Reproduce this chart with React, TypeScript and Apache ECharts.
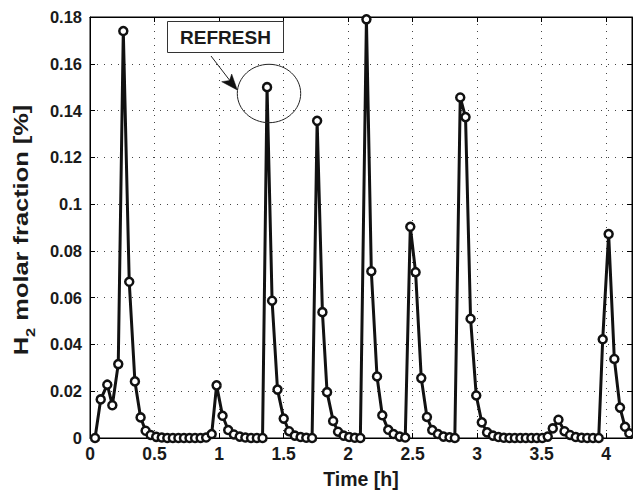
import React, { useEffect, useRef } from "react";
import * as echarts from "echarts";

const times = [
  0.039, 0.083, 0.134, 0.173, 0.219, 0.258, 0.304, 0.348, 0.392, 0.431,
  0.470, 0.513, 0.556, 0.599, 0.642, 0.685, 0.728, 0.771, 0.814, 0.857,
  0.900, 0.943, 0.981, 1.027, 1.071, 1.115, 1.160, 1.204, 1.248, 1.293,
  1.337, 1.372, 1.411, 1.453, 1.501, 1.543, 1.587, 1.632, 1.676, 1.721,
  1.760, 1.801, 1.837, 1.884, 1.922, 1.965, 2.008, 2.052, 2.095, 2.142,
  2.180, 2.224, 2.265, 2.311, 2.352, 2.399, 2.443, 2.482, 2.523, 2.567,
  2.611, 2.652, 2.696, 2.739, 2.786, 2.827, 2.869, 2.910, 2.949, 2.993,
  3.036, 3.077, 3.122, 3.165, 3.207, 3.250, 3.292, 3.335, 3.377, 3.420,
  3.462, 3.505, 3.547, 3.586, 3.630, 3.677, 3.720, 3.764, 3.809, 3.853,
  3.898, 3.942, 3.973, 4.019, 4.063, 4.107, 4.146, 4.179,
];

const h2Fraction = [
  0, 0.0165, 0.0228, 0.014, 0.0316, 0.174, 0.0668, 0.0242, 0.0088, 0.0031,
  0.0013, 0.0005, 0.0002, 0, 0, 0, 0, 0, 0, 0,
  0.0002, 0.0017, 0.0225, 0.0095, 0.0034, 0.0015, 0.0006, 0.0002, 0, 0,
  0, 0.150, 0.0587, 0.0207, 0.0083, 0.0029, 0.001, 0.0004, 0.0001, 0,
  0.1356, 0.0538, 0.0196, 0.0073, 0.0027, 0.001, 0.0004, 0.0001, 0, 0.179,
  0.0713, 0.0263, 0.0097, 0.0035, 0.0017, 0.0006, 0.0002, 0.0903, 0.0709, 0.0256,
  0.009, 0.0034, 0.0017, 0.0006, 0.0003, 0, 0.1456, 0.1372, 0.051, 0.0182,
  0.0067, 0.0024, 0.001, 0.0004, 0.0001, 0, 0, 0, 0, 0,
  0, 0, 0.0006, 0.0041, 0.0078, 0.0029, 0.0013, 0.0004, 0.0001, 0,
  0, 0, 0.0422, 0.0872, 0.0338, 0.013, 0.0048, 0.002,
];

const xTitle = "Time [h]";
const yTitleMain = "H";
const yTitleSub = "2";
const yTitleRest = " molar fraction [%]";
const annotationText = "REFRESH";

const FONT = '"Liberation Sans", Arial, Helvetica, sans-serif';
const TEXT = "#1a1a1a";

export default function App() {
  const ref = useRef<HTMLDivElement>(null);

  useEffect(() => {
    if (!ref.current) return;
    const chart = echarts.init(ref.current, null, { renderer: "svg" });
    const data = times.map((t, i) => [t, h2Fraction[i]]);
    const gridLine = { show: true, lineStyle: { color: "#444", width: 1, type: [1, 6] as any } };
    const bold = { color: TEXT, fontWeight: "bold" as const, fontFamily: FONT };

    chart.setOption({
      animation: false,
      backgroundColor: "#fff",
      grid: { left: 90, top: 17, right: 1, bottom: 50, show: true, borderColor: "#000", borderWidth: 1, backgroundColor: "transparent" },
      xAxis: [
        {
          type: "value", min: 0, max: 4.2, interval: 0.5, position: "bottom",
          axisLine: { show: true, onZero: false, lineStyle: { color: "#000", width: 1 } },
          axisTick: { show: true, inside: true, length: 5, lineStyle: { color: "#000" } },
          axisLabel: { ...bold, fontSize: 17.5, margin: 7, showMaxLabel: false,
            formatter: (v: number) => (Math.abs(v * 2 - Math.round(v * 2)) < 1e-6 ? String(v) : "") },
          splitLine: gridLine,
          name: xTitle, nameLocation: "middle", nameGap: 31,
          nameTextStyle: { ...bold, fontSize: 19.5 },
        },
        {
          type: "value", min: 0, max: 4.2, interval: 0.5, position: "top",
          axisLine: { show: true, onZero: false, lineStyle: { color: "#000", width: 1 } },
          axisTick: { show: true, inside: true, length: 5, lineStyle: { color: "#000" } },
          axisLabel: { show: false }, splitLine: { show: false },
        },
      ],
      yAxis: [
        {
          type: "value", min: 0, max: 0.18, interval: 0.02, position: "left",
          axisLine: { show: true, onZero: false, lineStyle: { color: "#000", width: 1 } },
          axisTick: { show: true, inside: true, length: 5, lineStyle: { color: "#000" } },
          axisLabel: { ...bold, fontSize: 16.5, margin: 8 },
          splitLine: gridLine,
        },
        {
          type: "value", min: 0, max: 0.18, interval: 0.02, position: "right",
          axisLine: { show: true, onZero: false, lineStyle: { color: "#000", width: 1 } },
          axisTick: { show: true, inside: true, length: 5, lineStyle: { color: "#000" } },
          axisLabel: { show: false }, splitLine: { show: false },
        },
      ],
      series: [
        {
          type: "line", xAxisIndex: 0, yAxisIndex: 0, data,
          symbol: "circle", symbolSize: 8, showAllSymbol: true, clip: true,
          lineStyle: { color: "#111", width: 3 },
          itemStyle: { color: "#fff", borderColor: "#111", borderWidth: 2.5 },
          z: 5,
        },
      ],
      graphic: [
        {
          type: "group", x: 21, y: 230, rotation: Math.PI / 2,
          children: [
            {
              type: "text", x: 0, y: 0, scaleX: 1.27,
              style: {
                text: `{a|${yTitleMain}}{s|${yTitleSub}}{a|${yTitleRest}}`,
                align: "center", verticalAlign: "middle",
                rich: {
                  a: { fontSize: 20, fontWeight: "bold", fontFamily: FONT, fill: TEXT, lineHeight: 32, verticalAlign: "middle" },
                  s: { fontSize: 13, fontWeight: "bold", fontFamily: FONT, fill: TEXT, lineHeight: 32, verticalAlign: "bottom" },
                },
              },
            },
          ],
        },
        {
          type: "rect", z: 100,
          shape: { x: 167.5, y: 21.5, width: 116, height: 31 },
          style: { fill: "#fff", stroke: "#333", lineWidth: 1 },
        },
        {
          type: "text", z: 101, x: 225.5, y: 37.5,
          style: { text: annotationText, fontSize: 19, fontWeight: "bold", fontFamily: FONT, fill: TEXT, align: "center", verticalAlign: "middle" },
        },
        {
          type: "ellipse", z: 100,
          shape: { cx: 269, cy: 93.5, rx: 31.7, ry: 29.2 },
          style: { fill: "none", stroke: "#222", lineWidth: 1 },
        },
        {
          type: "line", z: 100,
          shape: { x1: 211, y1: 56, x2: 231, y2: 82 },
          style: { stroke: "#222", lineWidth: 1 },
        },
        {
          type: "polygon", z: 100,
          shape: { points: [[237.3, 90], [221.7, 81.7], [229.5, 80.5], [231.7, 74]] },
          style: { fill: "#111", stroke: "#111", lineWidth: 0.5 },
        },
      ],
    });
    return () => chart.dispose();
  }, []);

  return (
    <div
      ref={ref}
      style={{ position: "fixed", left: 0, top: 0, width: 633, height: 494, background: "#fff" }}
    />
  );
}
